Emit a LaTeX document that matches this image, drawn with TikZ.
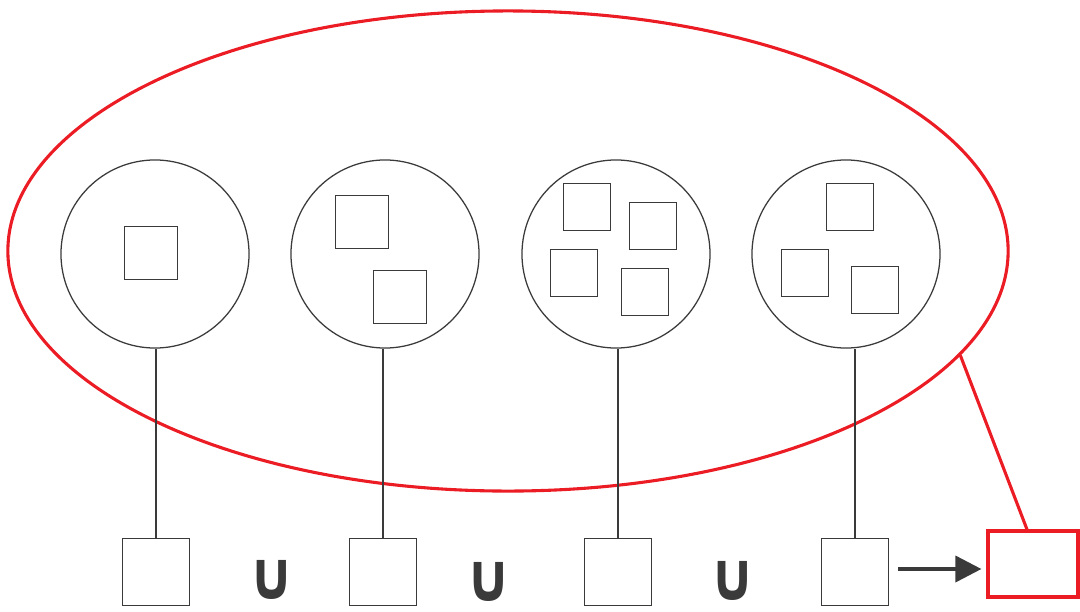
\documentclass[tikz,border=0pt]{standalone}
\usepackage{fontspec}
\usetikzlibrary{shapes.geometric,arrows.meta}
\newfontfamily\symfont{DejaVu Sans}
\definecolor{setred}{HTML}{EC1C24}
\definecolor{ink}{HTML}{3A3A3A}
\tikzset{
  bag/.style={circle,draw=ink,line width=0.9pt,minimum size=4.7cm,inner sep=0pt},
  elem/.style={rectangle,draw=ink,line width=0.9pt,minimum size=#1,inner sep=0pt},
  cupsign/.style={text=ink,inner sep=0pt,xscale=0.85,font=\symfont\bfseries\fontsize{48}{48}\selectfont},
  link/.style={draw=ink,line width=0.9pt}
}
\begin{document}
\begin{tikzpicture}[x=0.025cm,y=-0.025cm]
\useasboundingbox (0,0) rectangle (1080,612);

%draw big red ellipse
\node[ellipse,draw=setred,line width=2.2pt,minimum width=25cm,minimum height=12cm,inner sep=0pt] (all) at (508,251) {};

%draw the four circles
\foreach \i/\x in {1/155,2/385,3/616,4/846}
\node[bag] (c\i) at (\x,254) {};

%squares inside the circles
\node[elem=1.325cm] (a1) at (151,253) {};

\node[elem=1.325cm] (b1) at (362,222) {};
\node[elem=1.325cm] (b2) at (400,297) {};

\node[elem=1.175cm] (d1) at (587,207) {};
\node[elem=1.175cm] (d2) at (653,226) {};
\node[elem=1.175cm] (d3) at (574,273) {};
\node[elem=1.175cm] (d4) at (645,292) {};

\node[elem=1.175cm] (e1) at (850,207) {};
\node[elem=1.175cm] (e2) at (805,273) {};
\node[elem=1.175cm] (e3) at (875,290) {};

%draw bottom squares and vertical lines
\foreach \i/\x in {1/156,2/383,3/618,4/855}{
\node[elem=1.675cm] (s\i) at (\x,572) {};
\draw[link] (s\i.north) -- (s\i.north |- c\i.south);
}

%union signs
\node[cupsign] (u1) at (272,580) {∪};
\node[cupsign] (u2) at (489,582) {∪};
\node[cupsign] (u3) at (733,581) {∪};

%result box and arrow
\node[rectangle,draw=setred,line width=2.2pt,minimum width=2.25cm,minimum height=1.65cm,inner sep=0pt] (res) at (1033,564) {};
\coordinate (tip) at (res.west |- 0,569);
\draw[ink,line width=2.6pt,-{Triangle[length=0.65cm,width=0.65cm]},shorten <=9*0.025cm,shorten >=5*0.025cm] (s4.east |- tip) -- (tip);
\draw[setred,line width=2.2pt] (all.-13.8) -- ([xshift=-0.15cm]res.north);
\end{tikzpicture}
\end{document}
